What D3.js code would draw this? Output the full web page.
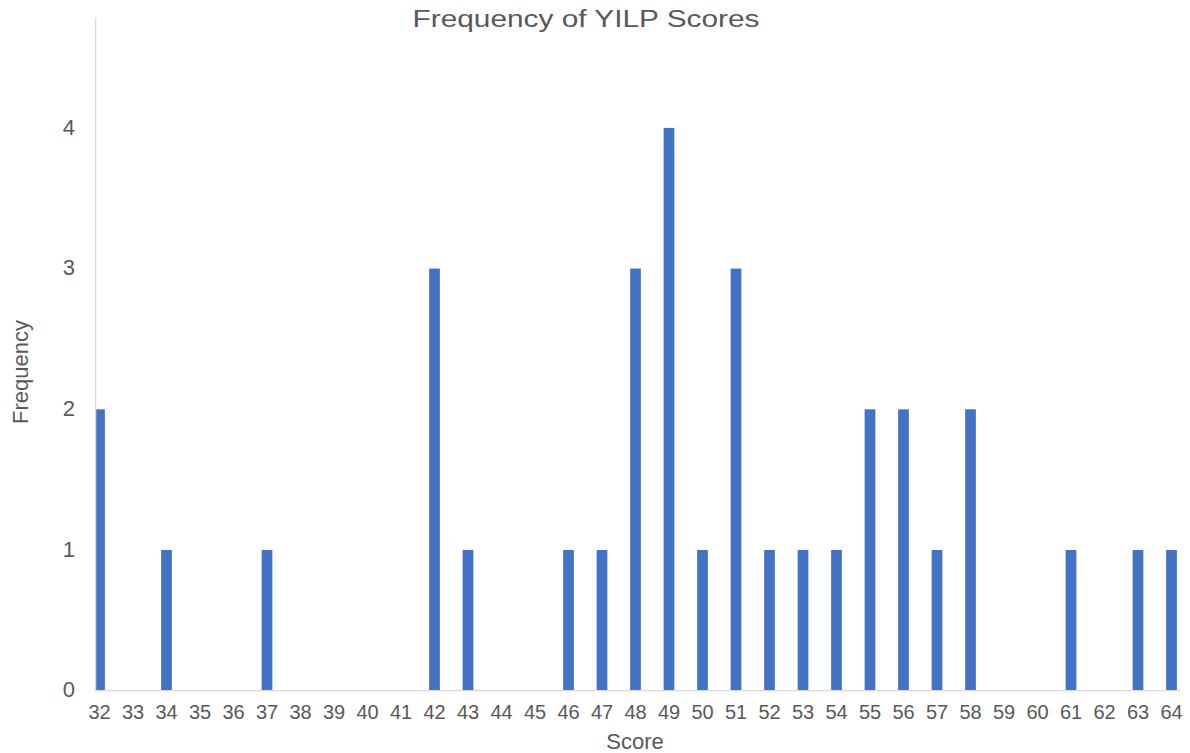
<!DOCTYPE html>
<html>
<head>
<meta charset="utf-8">
<script src="https://cdn.jsdelivr.net/npm/d3@7"></script>
<style>
  body { margin: 0; background: #fff; }
  text { font-family: "Liberation Sans", Arial, sans-serif; fill: #595959; }
</style>
</head>
<body>
<div id="chart"></div>
<script>
const scores = ["32","33","34","35","36","37","38","39","40","41","42","43","44","45","46","47","48",
                "49","50","51","52","53","54","55","56","57","58","59","60","61","62","63","64"];
const counts = [2,0,1,0,0,1,0,0,0,0,3,1,0,0,1,1,3,4,1,3,1,1,1,2,2,1,2,0,0,1,0,1,1];
const yTicks = [0,1,2,3,4];

const width = 1190, height = 753;
const plotLeft = 95.7, plotRight = 1180, plotTop = 17.5, plotBottom = 690.7;
const unitPx = 140.7;

const svg = d3.select("#chart")
    .append("svg")
    .attr("width", width)
    .attr("height", height);

const xScale = d3.scaleBand()
    .domain(scores)
    .range([82.75, 1188.25])
    .paddingInner(0.68)
    .paddingOuter(0.34);

const yScale = d3.scaleLinear()
    .domain([0, 5])
    .range([plotBottom, plotBottom - 5 * unitPx]);

svg.append("clipPath")
    .attr("id", "plot-clip")
    .append("rect")
    .attr("x", plotLeft)
    .attr("y", 0)
    .attr("width", plotRight - plotLeft)
    .attr("height", plotBottom);

// bars
svg.append("g")
    .attr("clip-path", "url(#plot-clip)")
    .selectAll("rect")
    .data(scores)
    .join("rect")
    .attr("x", d => xScale(d))
    .attr("width", xScale.bandwidth())
    .attr("y", (d, i) => yScale(counts[i]))
    .attr("height", (d, i) => yScale(0) - yScale(counts[i]))
    .attr("fill", "#4472C4");

// axis lines
svg.append("line")
    .attr("x1", plotLeft).attr("x2", plotLeft)
    .attr("y1", plotTop).attr("y2", yScale(0))
    .attr("stroke", "#d9d9d9").attr("stroke-width", 1.2);

svg.append("line")
    .attr("x1", plotLeft).attr("x2", plotRight)
    .attr("y1", yScale(0)).attr("y2", yScale(0))
    .attr("stroke", "#d9d9d9").attr("stroke-width", 1.2);

// y tick labels
svg.append("g")
    .selectAll("text")
    .data(yTicks)
    .join("text")
    .attr("x", 75)
    .attr("y", d => yScale(d))
    .attr("dy", "0.3em")
    .attr("text-anchor", "end")
    .style("font-size", "22px")
    .text(d => d);

// x tick labels
svg.append("g")
    .selectAll("text")
    .data(scores)
    .join("text")
    .attr("x", d => xScale(d) + xScale.bandwidth() / 2)
    .attr("y", 719)
    .attr("text-anchor", "middle")
    .style("font-size", "20px")
    .text(d => d);

// title
svg.append("text")
    .attr("x", 586)
    .attr("y", 27)
    .attr("text-anchor", "middle")
    .attr("textLength", 347)
    .attr("lengthAdjust", "spacingAndGlyphs")
    .style("font-size", "23px")
    .text("Frequency of YILP Scores");

// axis titles
svg.append("text")
    .attr("x", 635)
    .attr("y", 749)
    .attr("text-anchor", "middle")
    .style("font-size", "22px")
    .text("Score");

svg.append("text")
    .attr("transform", "translate(28,372) rotate(-90)")
    .attr("text-anchor", "middle")
    .style("font-size", "22px")
    .text("Frequency");
</script>
</body>
</html>
